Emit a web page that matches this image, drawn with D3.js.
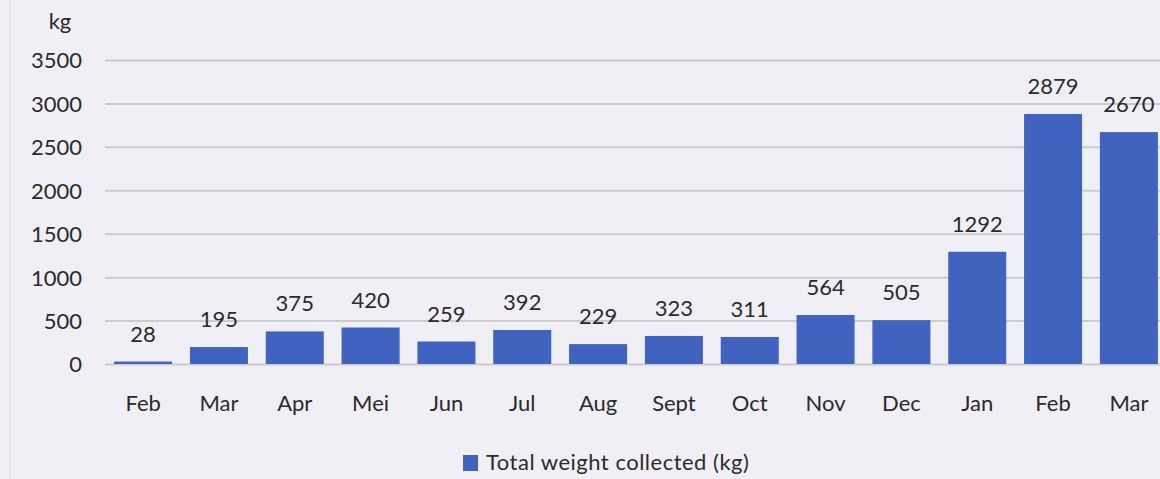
<!DOCTYPE html>
<html>
<head>
<meta charset="utf-8">
<script src="https://cdn.jsdelivr.net/npm/d3@7/dist/d3.min.js"></script>
<style>
  html, body { margin: 0; padding: 0; background: #efeff5; }
  svg { display: block; }
  text { font-family: Lato, "Open Sans", sans-serif; fill: #2b2b2b; }
</style>
</head>
<body>
<svg id="chart" width="1160" height="479"></svg>
<script>
// Monthly totals of collected material
const months = ["Feb", "Mar", "Apr", "Mei", "Jun", "Jul", "Aug", "Sept", "Oct", "Nov", "Dec", "Jan", "Feb", "Mar"];
const weights = [28, 195, 375, 420, 259, 392, 229, 323, 311, 564, 505, 1292, 2879, 2670];
const yTicks = [0, 500, 1000, 1500, 2000, 2500, 3000, 3500];
const seriesName = "Total weight collected (kg)";
const unitLabel = "kg";

const svg = d3.select("#chart");
const W = 1160, H = 479;
const FONT = "Lato, 'Open Sans', sans-serif";

// left panel edge
svg.append("line").attr("x1", 10).attr("x2", 10).attr("y1", 0).attr("y2", H)
  .attr("stroke", "#e0e0e6").attr("stroke-width", 1);

const plotLeft = 105, plotRight = 1167;
const idx = months.map((m, i) => i);

const x = d3.scaleBand().domain(idx).range([plotLeft, plotRight]).paddingInner(0.235).paddingOuter(0.12);
const y = d3.scaleLinear().domain([0, 3500]).range([364, 60]);

// gridlines + value axis labels
const yAxis = d3.axisLeft(y).tickValues(yTicks).tickFormat(d3.format("d"))
  .tickSize(-(W - plotLeft)).tickPadding(23);
const gy = svg.append("g").attr("transform", `translate(${plotLeft},0)`).call(yAxis);
gy.select(".domain").remove();
gy.selectAll(".tick line").attr("stroke", "#cbcbd0").attr("stroke-width", 2);
gy.selectAll(".tick text").attr("font-size", 22).attr("fill", "#2b2b2b")
  .attr("font-family", FONT).attr("dy", "0.36em");

// unit label
svg.append("text").attr("x", 60).attr("y", 29).attr("text-anchor", "middle")
  .attr("font-size", 22).text(unitLabel);

// bars
svg.append("g").selectAll("rect").data(weights).join("rect")
  .attr("x", (d, i) => x(i))
  .attr("width", x.bandwidth())
  .attr("y", d => y(d))
  .attr("height", d => y(0) - y(d))
  .attr("fill", "#3f63bf");

// value labels
svg.append("g").selectAll("text").data(weights).join("text")
  .attr("x", (d, i) => x(i) + x.bandwidth() / 2)
  .attr("y", d => y(d) - 20)
  .attr("text-anchor", "middle")
  .attr("font-size", 22)
  .text(d => d);

// category axis
const xAxis = d3.axisBottom(x).tickFormat(i => months[i]).tickSize(0).tickPadding(31);
const gx = svg.append("g").attr("transform", `translate(0,${y(0)})`).call(xAxis);
gx.select(".domain").remove();
gx.selectAll(".tick text").attr("font-size", 22).attr("fill", "#2b2b2b")
  .attr("font-family", FONT);

// legend
const lg = svg.append("g").attr("transform", "translate(463,455)");
lg.append("rect").attr("width", 15).attr("height", 16).attr("fill", "#3f63bf");
lg.append("text").attr("x", 23).attr("y", 15).attr("font-size", 22)
  .attr("letter-spacing", 0.5).text(seriesName);
</script>
</body>
</html>
